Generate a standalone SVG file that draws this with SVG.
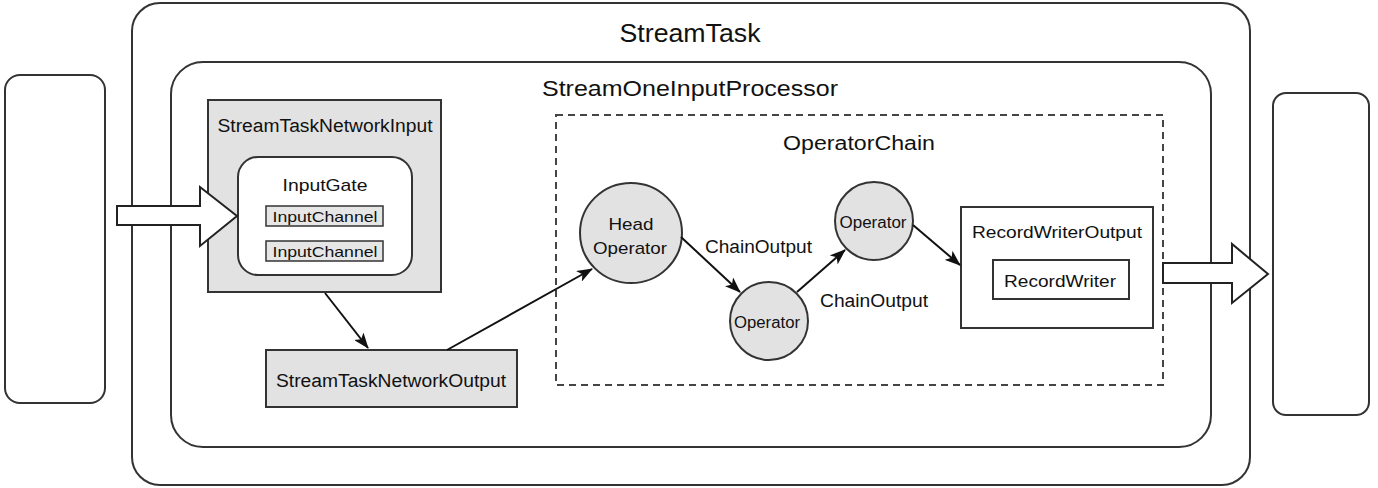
<svg xmlns="http://www.w3.org/2000/svg" width="1378" height="488" viewBox="0 0 1378 488">
<style>
text{font-family:"Liberation Sans",Arial,Helvetica,sans-serif;fill:#111}
.box{fill:#fff;stroke:#333;stroke-width:2}
.gray{fill:#e2e2e2;stroke:#333;stroke-width:2}
.chan{fill:#e6e6e6;stroke:#333;stroke-width:1.5}
.dash{fill:none;stroke:#444;stroke-width:2;stroke-dasharray:7,5}
.conn{fill:none;stroke:#111;stroke-width:2;marker-end:url(#ah)}
.big{fill:#fff;stroke:#222;stroke-width:2}
</style>
<defs>
<marker id="ah" viewBox="0 0 16 12" refX="15" refY="6" markerWidth="16" markerHeight="12" markerUnits="userSpaceOnUse" orient="auto">
<path d="M0,0 L16,6 L0,12 L4,6 z" fill="#111"/>
</marker>
</defs>
<g id="left-box"><rect class="box" x="5" y="75" width="100" height="328" rx="15"/></g>
<g id="stream-task">
<rect class="box" x="132" y="3" width="1118" height="482" rx="28"/>
<text x="690" y="42" font-size="25" text-anchor="middle" textLength="141" lengthAdjust="spacingAndGlyphs">StreamTask</text>
</g>
<g id="processor">
<rect class="box" x="171" y="62" width="1040" height="385" rx="32"/>
<text x="690" y="96" font-size="22" text-anchor="middle" textLength="296" lengthAdjust="spacingAndGlyphs">StreamOneInputProcessor</text>
</g>
<g id="right-box"><rect class="box" x="1273" y="93" width="96" height="322" rx="13"/></g>
<g id="network-input">
<rect class="gray" x="208" y="100" width="233" height="192"/>
<text x="325" y="132" font-size="18" text-anchor="middle" textLength="215" lengthAdjust="spacingAndGlyphs">StreamTaskNetworkInput</text>
</g>
<g id="input-gate">
<rect class="box" x="238" y="157" width="174" height="118" rx="20"/>
<text x="325" y="191" font-size="17" text-anchor="middle" textLength="85" lengthAdjust="spacingAndGlyphs">InputGate</text>
</g>
<g id="input-channel-1">
<rect class="chan" x="266" y="206" width="117" height="20"/>
<text x="325" y="222" font-size="15" text-anchor="middle" textLength="105" lengthAdjust="spacingAndGlyphs">InputChannel</text>
</g>
<g id="input-channel-2">
<rect class="chan" x="266" y="241" width="117" height="20"/>
<text x="325" y="257" font-size="15" text-anchor="middle" textLength="105" lengthAdjust="spacingAndGlyphs">InputChannel</text>
</g>
<g id="network-output">
<rect class="gray" x="266" y="350" width="251" height="57"/>
<text x="391" y="387" font-size="18" text-anchor="middle" textLength="230" lengthAdjust="spacingAndGlyphs">StreamTaskNetworkOutput</text>
</g>
<g id="operator-chain">
<rect class="dash" x="556" y="115" width="607" height="270"/>
<text x="859" y="150" font-size="20" text-anchor="middle" textLength="152" lengthAdjust="spacingAndGlyphs">OperatorChain</text>
</g>
<g id="head-operator">
<ellipse class="gray" cx="631" cy="233" rx="51" ry="50"/>
<text x="631" y="230" font-size="17" text-anchor="middle" textLength="45" lengthAdjust="spacingAndGlyphs">Head</text>
<text x="630" y="254" font-size="17" text-anchor="middle" textLength="74" lengthAdjust="spacingAndGlyphs">Operator</text>
</g>
<g id="operator-lower">
<circle class="gray" cx="769" cy="321" r="39"/>
<text x="767" y="328" font-size="16" text-anchor="middle" textLength="66" lengthAdjust="spacingAndGlyphs">Operator</text>
</g>
<g id="operator-upper">
<circle class="gray" cx="874" cy="221" r="39"/>
<text x="873" y="228" font-size="16" text-anchor="middle" textLength="67" lengthAdjust="spacingAndGlyphs">Operator</text>
</g>
<g id="record-writer-output">
<rect class="box" x="961" y="207" width="192" height="121"/>
<text x="1057" y="238" font-size="17" text-anchor="middle" textLength="170" lengthAdjust="spacingAndGlyphs">RecordWriterOutput</text>
</g>
<g id="record-writer">
<rect class="box" x="993" y="260" width="136" height="39"/>
<text x="1060" y="287" font-size="17" text-anchor="middle" textLength="112" lengthAdjust="spacingAndGlyphs">RecordWriter</text>
</g>
<g id="connectors">
<polygon class="big" points="117,206 200,206 200,187 237,216 200,246 200,225 117,225"/>
<polygon class="big" points="1163,263 1232,263 1232,244 1268,274 1232,303 1232,283 1163,283"/>
<line class="conn" x1="325" y1="293" x2="368" y2="348"/>
<line class="conn" x1="447" y1="350" x2="592" y2="269"/>
<line class="conn" x1="681" y1="237" x2="740" y2="292"/>
<line class="conn" x1="797" y1="292" x2="845" y2="250"/>
<line class="conn" x1="913" y1="225" x2="960" y2="265"/>
<text x="705" y="253" font-size="18" textLength="107" lengthAdjust="spacingAndGlyphs">ChainOutput</text>
<text x="820" y="307" font-size="18" textLength="108" lengthAdjust="spacingAndGlyphs">ChainOutput</text>
</g>
</svg>
